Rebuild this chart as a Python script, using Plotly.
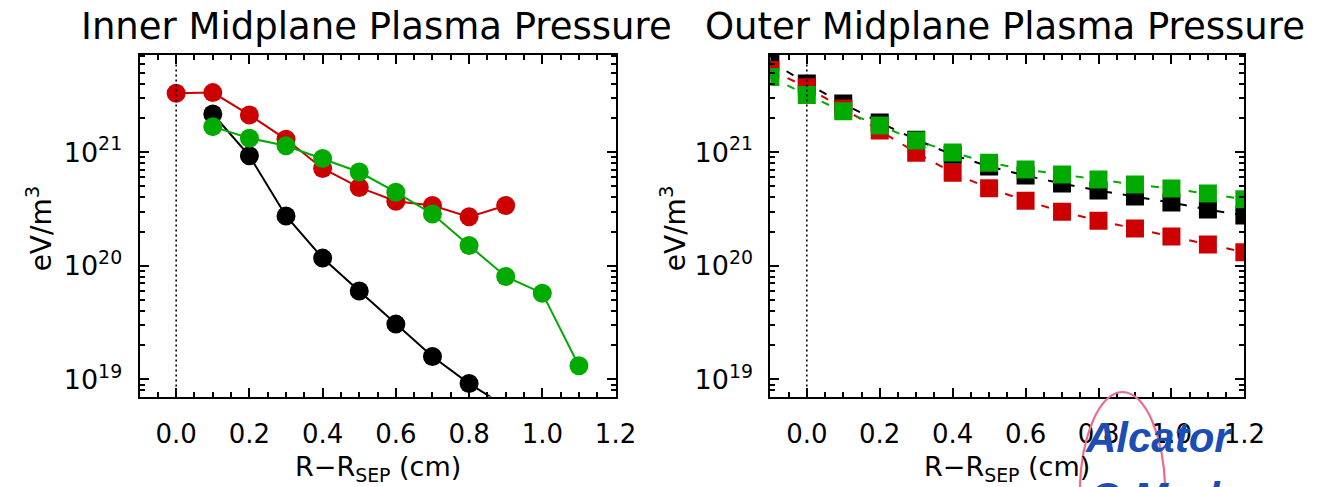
import plotly.graph_objects as go

W, H = 1331, 487

# ---------------- data ----------------
inner_x_black = [0.1, 0.2, 0.3, 0.4, 0.5, 0.6, 0.7, 0.8, 0.9]
inner_black = [2.17e21, 9.3e20, 2.75e20, 1.17e20, 6.0e19, 3.07e19, 1.59e19, 9.2e18, 5.8e18]

inner_x_red = [0.0, 0.1, 0.2, 0.3, 0.4, 0.5, 0.6, 0.7, 0.8, 0.9]
inner_red = [3.3e21, 3.35e21, 2.13e21, 1.3e21, 7.2e20, 4.9e20, 3.7e20, 3.4e20, 2.7e20, 3.4e20]

inner_x_green = [0.1, 0.2, 0.3, 0.4, 0.5, 0.6, 0.7, 0.8, 0.9, 1.0, 1.1]
inner_green = [1.68e21, 1.33e21, 1.14e21, 8.8e20, 6.7e20, 4.45e20, 2.86e20, 1.51e20, 8.06e19, 5.75e19, 1.32e19]

outer_x = [-0.1, 0.0, 0.1, 0.2, 0.3, 0.4, 0.5, 0.6, 0.7, 0.8, 0.9, 1.0, 1.1, 1.2]
outer_black = [6.3e21, 4.03e21, 2.68e21, 1.83e21, 1.29e21, 9.5e20, 7.5e20, 6.24e20,
               5.3e20, 4.6e20, 4.07e20, 3.61e20, 3.13e20, 2.77e20]
outer_red = [5.3e21, 3.74e21, 2.43e21, 1.55e21, 9.9e20, 6.6e20, 4.81e20, 3.75e20,
             3.0e20, 2.5e20, 2.13e20, 1.81e20, 1.54e20, 1.32e20]
outer_green = [4.6e21, 3.19e21, 2.29e21, 1.72e21, 1.27e21, 9.95e20, 8.1e20, 7.05e20,
               6.37e20, 5.75e20, 5.19e20, 4.79e20, 4.33e20, 3.86e20]

x_tick_vals = [0.0, 0.2, 0.4, 0.6, 0.8, 1.0, 1.2]
x_tick_text = ["0.0", "0.2", "0.4", "0.6", "0.8", "1.0", "1.2"]
y_tick_vals = [1e19, 1e20, 1e21]
y_tick_text = ["10<sup>19</sup>", "10<sup>20</sup>", "10<sup>21</sup>"]

titles = ["Inner Midplane Plasma Pressure", "Outer Midplane Plasma Pressure"]
x_title = "R\u2212R<sub>SEP</sub> (cm)"
y_title = "eV/m<sup>3</sup>"

BLACK, RED, GREEN = "#000000", "#CC0000", "#00AA00"
FONT = "DejaVu Sans"

# ---------------- layout helpers ----------------
def px(v):
    return v / W

def py(v):
    return 1 - v / H

x_minor = [round(-0.1 + 0.05 * i, 2) for i in range(27)]
x_minor = [v for v in x_minor if abs(v / 0.2 - round(v / 0.2)) > 1e-6]
y_minor = [float(m) * 10.0 ** e for e in (18, 19, 20, 21) for m in range(2, 10)]

fig = go.Figure()

# Inner plot (x, y)
fig.add_trace(go.Scatter(x=inner_x_black, y=inner_black, mode="lines+markers",
                         line=dict(color=BLACK, width=2),
                         marker=dict(color=BLACK, size=19, symbol="circle"),
                         xaxis="x", yaxis="y", showlegend=False))
fig.add_trace(go.Scatter(x=inner_x_red, y=inner_red, mode="lines+markers",
                         line=dict(color=RED, width=2),
                         marker=dict(color=RED, size=19, symbol="circle"),
                         xaxis="x", yaxis="y", showlegend=False))
fig.add_trace(go.Scatter(x=inner_x_green, y=inner_green, mode="lines+markers",
                         line=dict(color=GREEN, width=2),
                         marker=dict(color=GREEN, size=19, symbol="circle"),
                         xaxis="x", yaxis="y", showlegend=False))

# Outer plot (x2, y2)
for vals, col in ((outer_black, BLACK), (outer_red, RED), (outer_green, GREEN)):
    fig.add_trace(go.Scatter(x=outer_x, y=vals, mode="lines+markers",
                             line=dict(color=col, width=2, dash="8px,11px"),
                             marker=dict(color=col, size=18, symbol="square"),
                             xaxis="x2", yaxis="y2", showlegend=False))

def xax(domain):
    return dict(domain=domain, range=[-0.1, 1.2], showgrid=False, zeroline=False,
                showline=True, linecolor=BLACK, linewidth=2, mirror="ticks",
                ticks="inside", ticklen=9, tickwidth=1.5, tickcolor=BLACK,
                tickvals=x_tick_vals, ticktext=x_tick_text,
                tickfont=dict(family=FONT, size=26, color=BLACK),
                ticklabelstandoff=13,
                minor=dict(ticks="inside", ticklen=5, tickwidth=1.5, tickcolor=BLACK,
                           tickvals=x_minor, showgrid=False))

def yax(domain, anchor):
    return dict(domain=domain, type="log", range=[18.85, 21.856], anchor=anchor,
                showgrid=False, zeroline=False,
                showline=True, linecolor=BLACK, linewidth=2, mirror="ticks",
                ticks="inside", ticklen=9, tickwidth=1.5, tickcolor=BLACK,
                tickvals=y_tick_vals, ticktext=y_tick_text,
                tickfont=dict(family=FONT, size=27, color=BLACK),
                ticklabelstandoff=10,
                minor=dict(ticks="inside", ticklen=5, tickwidth=1.5, tickcolor=BLACK,
                           tickvals=y_minor, showgrid=False))

ydom = [py(396.5), py(55)]
fig.update_layout(
    width=W, height=H,
    margin=dict(l=0, r=0, t=0, b=0),
    paper_bgcolor="white", plot_bgcolor="white",
    font=dict(family=FONT, color=BLACK),
    xaxis=dict(**xax([px(141.8), px(625.4)]), anchor="y"),
    yaxis=yax(ydom, "x"),
    xaxis2=dict(**xax([px(782.7), px(1264.3)]), anchor="y2"),
    yaxis2=yax(ydom, "x2"),
)

# dotted separatrix lines (drawn over the markers, as in the reference)
for xr, yr in (("x", "y domain"), ("x2", "y2 domain")):
    fig.add_shape(type="line", xref=xr, yref=yr, x0=0, x1=0, y0=0, y1=1,
                  line=dict(color=BLACK, width=1.6, dash="2px,3px"), layer="above")

ann = []
for t, cx in zip(titles, (383, 1021)):
    ann.append(dict(text=t, x=px(cx), y=py(27), xref="paper", yref="paper",
                    showarrow=False, xanchor="center", yanchor="middle",
                    font=dict(family=FONT, size=37, color=BLACK)))
for cx in (383.6, 1023.5):
    ann.append(dict(text=x_title, x=px(cx), y=py(468), xref="paper", yref="paper",
                    showarrow=False, xanchor="center", yanchor="middle",
                    font=dict(family=FONT, size=27, color=BLACK)))
for cx in (40, 684):
    ann.append(dict(text=y_title, x=px(cx), y=py(228), xref="paper", yref="paper",
                    showarrow=False, xanchor="center", yanchor="middle", textangle=-90,
                    font=dict(family=FONT, size=28, color=BLACK)))

# Alcator C-Mod logo fragment
fig.add_shape(type="circle", xref="paper", yref="paper",
              x0=px(1097), x1=px(1184), y0=py(600), y1=py(392),
              line=dict(color="#F06A8E", width=2.2), layer="above")
ann.append(dict(text="<b><i>Alcator</i></b>", x=px(1178), y=py(437), xref="paper", yref="paper",
                showarrow=False, xanchor="center", yanchor="middle",
                font=dict(family="Liberation Sans", size=42, color="#1C4DB5")))
ann.append(dict(text="<b><i>C-Mod</i></b>", x=px(1174), y=py(497), xref="paper", yref="paper",
                showarrow=False, xanchor="center", yanchor="middle",
                font=dict(family="Liberation Sans", size=42, color="#1C4DB5")))
fig.update_layout(annotations=ann)

fig.write_html("out.html")
